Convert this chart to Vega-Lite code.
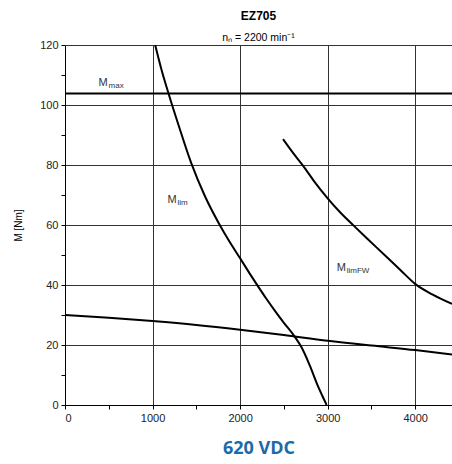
{
  "$schema": "https://vega.github.io/schema/vega-lite/v6.json",
  "width": 387,
  "height": 360,
  "autosize": {"type": "none"},
  "padding": {"left": 65, "top": 45, "right": 0, "bottom": 59},
  "background": "white",
  "title": {
    "text": "EZ705",
    "subtitle": "nₙ = 2200 min⁻¹",
    "anchor": "middle",
    "font": "Liberation Sans",
    "fontSize": 12,
    "fontWeight": "bold",
    "color": "#000",
    "subtitleFont": "Liberation Sans",
    "subtitleFontSize": 10.5,
    "subtitleColor": "#000",
    "subtitlePadding": 10,
    "offset": -5
  },
  "config": {
    "view": {"stroke": null},
    "axis": {
      "labelFont": "Liberation Sans",
      "labelFontSize": 11,
      "labelColor": "#222",
      "titleFont": "Liberation Sans",
      "domainColor": "#000",
      "tickColor": "#000",
      "gridColor": "#333",
      "gridWidth": 1,
      "tickSize": 4
    }
  },
  "datasets": {
    "curves": [
      {"series": "Mmax", "n": 0, "M": 103.8},
      {"series": "Mmax", "n": 4420, "M": 103.8},
      {"series": "Mlim", "n": 1030, "M": 120},
      {"series": "Mlim", "n": 1100, "M": 112},
      {"series": "Mlim", "n": 1186, "M": 103.5},
      {"series": "Mlim", "n": 1300, "M": 93},
      {"series": "Mlim", "n": 1442, "M": 80.6},
      {"series": "Mlim", "n": 1600, "M": 69.5},
      {"series": "Mlim", "n": 1758, "M": 60.5},
      {"series": "Mlim", "n": 1880, "M": 54.4},
      {"series": "Mlim", "n": 2000, "M": 48.9},
      {"series": "Mlim", "n": 2110, "M": 43.8},
      {"series": "Mlim", "n": 2190, "M": 40.2},
      {"series": "Mlim", "n": 2300, "M": 35.4},
      {"series": "Mlim", "n": 2400, "M": 31.3},
      {"series": "Mlim", "n": 2500, "M": 27.4},
      {"series": "Mlim", "n": 2623, "M": 22.8},
      {"series": "Mlim", "n": 2700, "M": 19.3},
      {"series": "Mlim", "n": 2794, "M": 13.3},
      {"series": "Mlim", "n": 2889, "M": 6.3},
      {"series": "Mlim", "n": 2940, "M": 3},
      {"series": "Mlim", "n": 2988, "M": 0},
      {"series": "MlimFW", "n": 2490, "M": 88.6},
      {"series": "MlimFW", "n": 2600, "M": 84.2},
      {"series": "MlimFW", "n": 2718, "M": 79.8},
      {"series": "MlimFW", "n": 2850, "M": 74.4},
      {"series": "MlimFW", "n": 3000, "M": 68.9},
      {"series": "MlimFW", "n": 3150, "M": 64},
      {"series": "MlimFW", "n": 3297, "M": 59.8},
      {"series": "MlimFW", "n": 3450, "M": 55.5},
      {"series": "MlimFW", "n": 3650, "M": 50},
      {"series": "MlimFW", "n": 3830, "M": 45},
      {"series": "MlimFW", "n": 4002, "M": 40.3},
      {"series": "MlimFW", "n": 4200, "M": 36.8},
      {"series": "MlimFW", "n": 4420, "M": 33.7},
      {"series": "Mcont", "n": 0, "M": 30},
      {"series": "Mcont", "n": 500, "M": 29.1},
      {"series": "Mcont", "n": 1000, "M": 28},
      {"series": "Mcont", "n": 1500, "M": 26.7},
      {"series": "Mcont", "n": 2000, "M": 25.1},
      {"series": "Mcont", "n": 2500, "M": 23.3},
      {"series": "Mcont", "n": 3000, "M": 21.4},
      {"series": "Mcont", "n": 3500, "M": 19.8},
      {"series": "Mcont", "n": 4000, "M": 18.3},
      {"series": "Mcont", "n": 4420, "M": 16.8}
    ],
    "mains": [
      {"t": "M", "n": 383, "M": 107.3},
      {"t": "M", "n": 1171, "M": 68.2},
      {"t": "M", "n": 3103, "M": 45.8}
    ],
    "subs": [
      {"t": "max", "n": 497, "M": 106.4},
      {"t": "lim", "n": 1285, "M": 67.3},
      {"t": "limFW", "n": 3217, "M": 44.6}
    ]
  },
  "encoding": {
    "x": {
      "field": "n", "type": "quantitative",
      "scale": {"domain": [0, 4420], "nice": false},
      "axis": {
        "values": [0, 500, 1000, 1500, 2000, 2500, 3000, 3500, 4000],
        "labelExpr": "datum.value % 1000 == 0 ? datum.label : ''",
        "format": "d",
        "grid": true,
        "gridOpacity": {"condition": {"test": "datum.value % 1000 != 0 || datum.value == 0", "value": 0}, "value": 1},
        "labelPadding": 3,
        "title": "620 VDC",
        "titleFont": "Open Sans",
        "titleFontSize": 18,
        "titleFontWeight": "bold",
        "titleColor": "#1b6aaa",
        "titlePadding": 16
      }
    },
    "y": {
      "field": "M", "type": "quantitative",
      "scale": {"domain": [0, 120], "nice": false},
      "axis": {
        "values": [0, 10, 20, 30, 40, 50, 60, 70, 80, 90, 100, 110, 120],
        "labelExpr": "datum.value % 20 == 0 ? datum.label : ''",
        "grid": true,
        "gridOpacity": {"condition": {"test": "datum.value % 20 != 0 || datum.value == 0", "value": 0}, "value": 1},
        "labelPadding": 3,
        "title": "M [Nm]",
        "titleFontSize": 10,
        "titleFontWeight": "normal",
        "titleColor": "#000",
        "titlePadding": 16
      }
    }
  },
  "layer": [
    {
      "data": {"name": "curves"},
      "mark": {"type": "line", "color": "#000", "strokeWidth": 2, "clip": true, "interpolate": "monotone"},
      "encoding": {"detail": {"field": "series"}}
    },
    {
      "data": {"name": "mains"},
      "mark": {"type": "text", "align": "left", "baseline": "middle", "font": "Liberation Sans", "fontSize": 11, "color": "#333"},
      "encoding": {"text": {"field": "t"}}
    },
    {
      "data": {"name": "subs"},
      "mark": {"type": "text", "align": "left", "baseline": "middle", "font": "Liberation Sans", "fontSize": 8, "color": "#333"},
      "encoding": {"text": {"field": "t"}}
    }
  ]
}
